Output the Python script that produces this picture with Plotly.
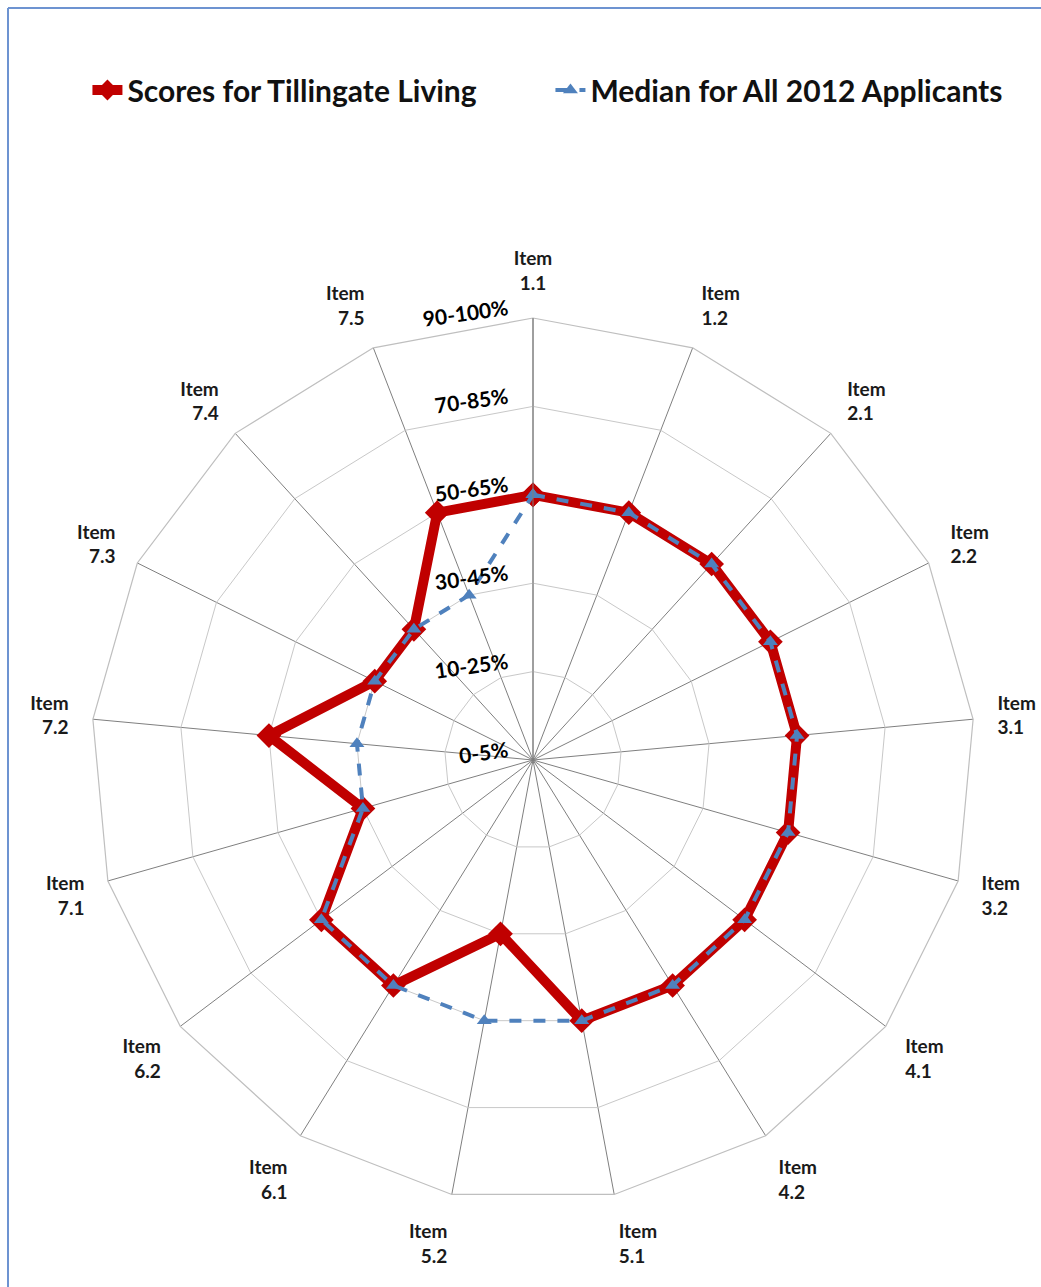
import plotly.graph_objects as go

categories = ["Item<br>1.1", "Item<br>1.2", "Item<br>2.1", "Item<br>2.2", "Item<br>3.1",
              "Item<br>3.2", "Item<br>4.1", "Item<br>4.2", "Item<br>5.1", "Item<br>5.2",
              "Item<br>6.1", "Item<br>6.2", "Item<br>7.1", "Item<br>7.2", "Item<br>7.3",
              "Item<br>7.4", "Item<br>7.5"]
scores_tillingate = [3, 3, 3, 3, 3, 3, 3, 3, 3, 2, 3, 3, 2, 3, 2, 2, 3]
median_2012 = [3, 3, 3, 3, 3, 3, 3, 3, 3, 3, 3, 3, 2, 2, 2, 2, 2]
radial_ticks = [0, 1, 2, 3, 4, 5]
radial_labels = ["0-5%", "10-25%", "30-45%", "50-65%", "70-85%", "90-100%"]

W, H = 1041, 1287
cx, cy, R = 533, 760, 442

fig = go.Figure()
fig.add_trace(go.Scatterpolar(
    r=scores_tillingate + scores_tillingate[:1],
    theta=categories + categories[:1],
    mode="lines+markers",
    name="Scores for Tillingate Living",
    line=dict(color="#C00000", width=10),
    marker=dict(symbol="diamond", size=19, color="#C00000"),
))
fig.add_trace(go.Scatterpolar(
    r=median_2012 + median_2012[:1],
    theta=categories + categories[:1],
    mode="lines+markers",
    name="Median for All 2012 Applicants",
    line=dict(color="#4F81BD", width=4, dash="dash"),
    marker=dict(symbol="triangle-up", size=13, color="#4F81BD"),
))

fig.update_layout(
    width=W, height=H,
    margin=dict(l=0, r=0, t=0, b=0),
    paper_bgcolor="white",
    font=dict(family="Lato, Open Sans, sans-serif", color="#111111"),
    showlegend=True,
    legend=dict(
        orientation="h", x=0.084, xanchor="left", y=1 - 90 / H, yanchor="middle",
        font=dict(size=30, family="Lato, sans-serif", color="#111111", weight="bold"),
        itemwidth=30, entrywidth=418, entrywidthmode="pixels",
    ),
    polar=dict(
        domain=dict(x=[(cx - R) / W, (cx + R) / W], y=[(H - cy - R) / H, (H - cy + R) / H]),
        bgcolor="white",
        gridshape="linear",
        angularaxis=dict(
            rotation=90, direction="clockwise",
            showline=True, linecolor="#BFBFBF", linewidth=1.2,
            gridcolor="#7F7F7F", gridwidth=1,
            ticks="outside", ticklen=20, tickcolor="rgba(0,0,0,0)",
            tickfont=dict(size=19, color="#1A1A1A", family="Lato, sans-serif", weight="bold"),
        ),
        radialaxis=dict(
            range=[0, 5], angle=90, side="counterclockwise",
            tickvals=radial_ticks, ticktext=[t + "<br> " for t in radial_labels],
            tickfont=dict(size=21, color="#000000", family="Lato, sans-serif", weight="bold"),
            tickangle=82,
            showline=True, linecolor="#7F7F7F", linewidth=1,
            gridcolor="#C8C8C8", gridwidth=1.2,
            ticks="outside", ticklen=4, tickcolor="rgba(0,0,0,0)",
        ),
    ),
    shapes=[
        dict(type="line", xref="paper", yref="paper", x0=8 / W, x1=8 / W, y0=0, y1=1 - 8 / H,
             line=dict(color="#6D93D1", width=2)),
        dict(type="line", xref="paper", yref="paper", x0=8 / W, x1=1, y0=1 - 8 / H, y1=1 - 8 / H,
             line=dict(color="#6D93D1", width=2)),
    ],
)

fig.write_html("out.html")
